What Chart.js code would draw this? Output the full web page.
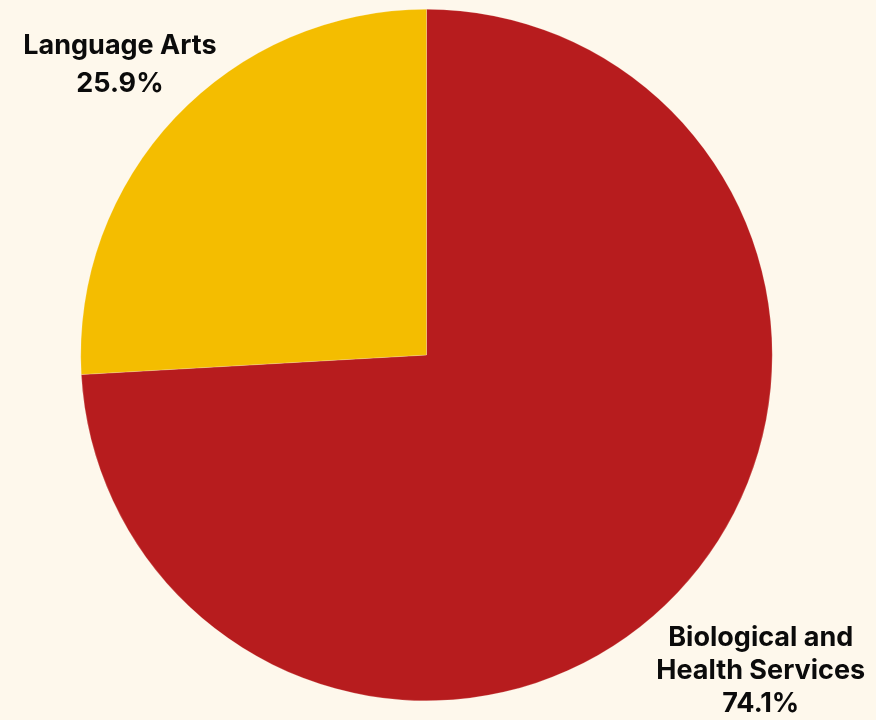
<!DOCTYPE html>
<html>
<head>
<meta charset="utf-8">
<script src="https://cdn.jsdelivr.net/npm/chart.js@4.4.1/dist/chart.umd.min.js"></script>
<style>
  html, body {
    margin: 0;
    padding: 0;
    background: #fef8ec;
  }
  #wrap {
    width: 876px;
    height: 720px;
    position: relative;
  }
</style>
</head>
<body>
<div id="wrap">
  <canvas id="chart"></canvas>
</div>
<script>
const categories = ['Biological and Health Services', 'Language Arts'];
const labelLines = [['Biological and', 'Health Services'], ['Language Arts']];
const shares = [74.1, 25.9];
const sliceColors = ['#b71c1e', '#f4bd00'];

// draws the outside labels from each arc's angle
const outsideLabels = {
  id: 'outsideLabels',
  afterDatasetsDraw(chart, args, opts) {
    const ctx = chart.ctx;
    const arcs = chart.getDatasetMeta(0).data;
    ctx.save();
    ctx.font = opts.font;
    ctx.fillStyle = opts.color;
    ctx.textAlign = 'center';
    ctx.textBaseline = 'middle';
    arcs.forEach((arc, i) => {
      const p = arc.getProps(['x', 'y', 'startAngle', 'endAngle', 'outerRadius'], true);
      const mid = (p.startAngle + p.endAngle) / 2;
      const r = p.outerRadius * opts.distance[i];
      const cx = p.x + Math.cos(mid) * r;
      const cy = p.y + Math.sin(mid) * r;
      const lh = opts.lineHeight[i];
      const lines = labelLines[i].concat([shares[i].toFixed(1) + '%']);
      const top = cy - (lines.length - 1) * lh / 2;
      lines.forEach((t, j) => ctx.fillText(t, cx, top + j * lh));
    });
    ctx.restore();
  }
};

new Chart(document.getElementById('chart'), {
  type: 'pie',
  data: {
    labels: categories,
    datasets: [{
      data: shares,
      backgroundColor: sliceColors,
      borderColor: 'rgba(254, 248, 236, 0.4)',
      borderWidth: 0.5
    }]
  },
  options: {
    responsive: true,
    maintainAspectRatio: false,
    animation: false,
    layout: {
      padding: { left: 80, right: 103, top: 9, bottom: 19 }
    },
    plugins: {
      legend: { display: false },
      tooltip: { enabled: false },
      outsideLabels: {
        font: 'bold 27px Inter',
        color: '#0b0b0b',
        lineHeight: [33, 38],
        distance: [1.33, 1.22]
      }
    }
  },
  plugins: [outsideLabels]
});
</script>
</body>
</html>
